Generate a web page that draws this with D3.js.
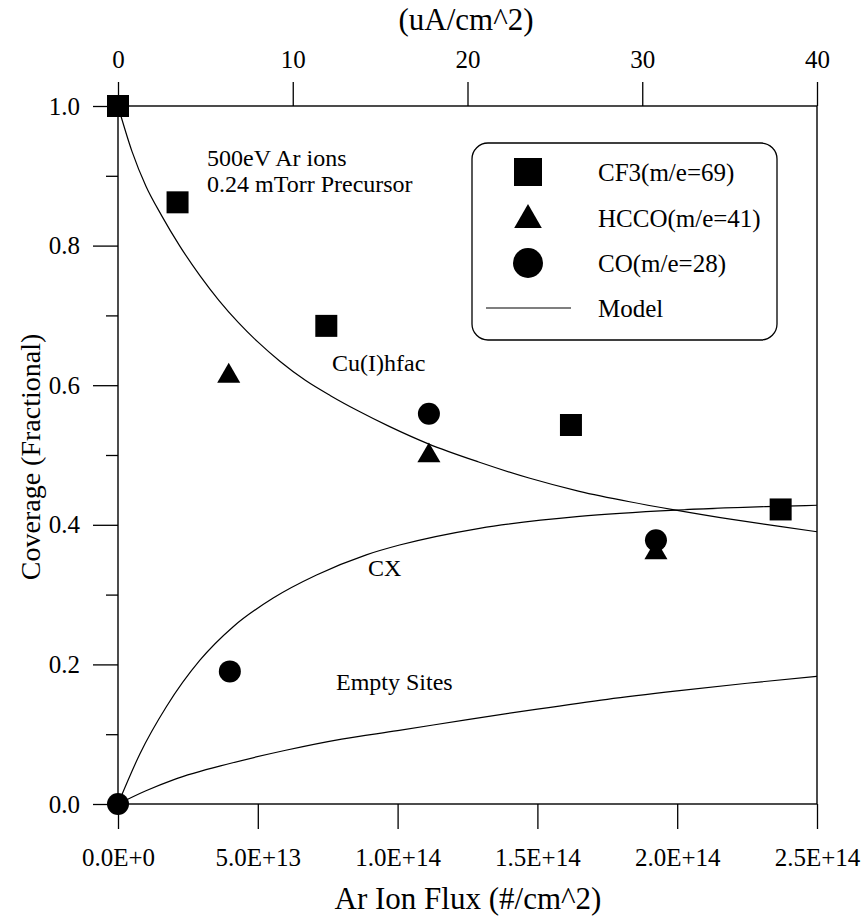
<!DOCTYPE html>
<html>
<head>
<meta charset="utf-8">
<script src="https://cdn.jsdelivr.net/npm/d3@7"></script>
<style>
  html, body { margin: 0; padding: 0; background: #fff; }
  svg text { font-family: "Liberation Serif", "Times New Roman", serif; fill: #000; }
</style>
</head>
<body>
<script>
// --- data ---
const fluxTicks = [0, 5e13, 1e14, 1.5e14, 2e14, 2.5e14];
const currentTicks = [0, 10, 20, 30, 40];
const coverageTicks = [0, 0.2, 0.4, 0.6, 0.8, 1.0];
const coverageMinor = [0.1, 0.3, 0.5, 0.7, 0.9];

// measured points
const cf3X = [0, 2.13e13, 7.45e13, 1.62e14, 2.37e14];
const cf3Y = [1.0, 0.862, 0.685, 0.543, 0.422];
const hccoX = [3.96e13, 1.112e14, 1.924e14];
const hccoY = [0.613, 0.499, 0.360];
const coX = [0, 4.0e13, 1.112e14, 1.924e14];
const coY = [0, 0.19, 0.559, 0.378];

// model curves (x in units of 1e13)
const hfacX = [0, 0.5, 1.0, 1.56, 2.2, 2.93, 3.6, 4.3, 5.0, 5.8, 6.7, 7.6, 8.6, 9.7, 11.1, 12.9, 14.7, 16.5, 18.3, 19.95, 21.9, 23.6, 25];
const hfacY = [1.0, 0.935, 0.885, 0.843, 0.8, 0.757, 0.722, 0.69, 0.662, 0.634, 0.607, 0.585, 0.563, 0.541, 0.516, 0.49, 0.467, 0.448, 0.433, 0.421, 0.408, 0.398, 0.39];
const cxX = [0, 0.786, 1.74, 2.93, 4.12, 5.55, 7.1, 8.88, 10.07, 12.93, 16.5, 19.95, 23.17, 25];
const cxY = [0, 0.072, 0.14, 0.206, 0.254, 0.295, 0.328, 0.357, 0.371, 0.395, 0.412, 0.421, 0.426, 0.428];
const emptyX = [0, 1, 2, 4, 6, 8, 10, 12.5, 15, 17.5, 20, 22.5, 25];
const emptyY = [0, 0.019, 0.035, 0.058, 0.077, 0.093, 0.105, 0.121, 0.136, 0.15, 0.162, 0.173, 0.183];

const legendLabels = ["CF3(m/e=69)", "HCCO(m/e=41)", "CO(m/e=28)", "Model"];

// --- setup ---
const width = 868, height = 919;
const plot = { left: 118, right: 817, top: 106, bottom: 804 };

const svg = d3.select("body").append("svg")
  .attr("width", width)
  .attr("height", height);

const x = d3.scaleLinear().domain([0, 2.5e14]).range([plot.left, plot.right]);
const xTop = d3.scaleLinear().domain([0, 40]).range([plot.left, plot.right]);
const y = d3.scaleLinear().domain([0, 1]).range([plot.bottom, plot.top]);

const fmtE = d => d3.format(".1e")(d).toUpperCase();

// axes
const gx = svg.append("g")
  .attr("transform", `translate(0,${plot.bottom})`)
  .call(d3.axisBottom(x).tickValues(fluxTicks).tickFormat(fmtE).tickSize(25).tickPadding(19).tickSizeOuter(0));

const gxTop = svg.append("g")
  .attr("transform", `translate(0,${plot.top})`)
  .call(d3.axisTop(xTop).tickValues(currentTicks).tickSize(24).tickPadding(14).tickSizeOuter(0));

const gy = svg.append("g")
  .attr("transform", `translate(${plot.left},0)`)
  .call(d3.axisLeft(y).tickValues(coverageTicks).tickFormat(d3.format(".1f")).tickSize(25).tickPadding(13).tickSizeOuter(0));

const gyMinor = svg.append("g")
  .attr("transform", `translate(${plot.left},0)`)
  .call(d3.axisLeft(y).tickValues(coverageMinor).tickFormat("").tickSize(12).tickSizeOuter(0));

[gx, gxTop, gy, gyMinor].forEach(g => {
  g.select(".domain").remove();
  g.selectAll("line").attr("stroke", "#000").attr("stroke-width", 1.3);
  g.selectAll("text").style("font-size", "25px").attr("fill", "#000");
});

// frame
svg.append("rect")
  .attr("x", plot.left)
  .attr("y", plot.top)
  .attr("width", plot.right - plot.left)
  .attr("height", plot.bottom - plot.top)
  .attr("fill", "none")
  .attr("stroke", "#000")
  .attr("stroke-width", 1.4);

// axis titles
svg.append("text")
  .attr("x", 468).attr("y", 909)
  .attr("text-anchor", "middle")
  .style("font-size", "31px")
  .text("Ar Ion Flux (#/cm^2)");

svg.append("text")
  .attr("x", 466).attr("y", 30)
  .attr("text-anchor", "middle")
  .style("font-size", "31px")
  .text("(uA/cm^2)");

svg.append("text")
  .attr("transform", `translate(40,457) rotate(-90)`)
  .attr("text-anchor", "middle")
  .style("font-size", "28px")
  .text("Coverage (Fractional)");

// model curves
const line = d3.line()
  .x(d => x(d[0] * 1e13))
  .y(d => y(d[1]))
  .curve(d3.curveMonotoneX);

[[hfacX, hfacY], [cxX, cxY], [emptyX, emptyY]].forEach(([xs, ys]) => {
  svg.append("path")
    .datum(xs.map((v, i) => [v, ys[i]]))
    .attr("fill", "none")
    .attr("stroke", "#000")
    .attr("stroke-width", 1.2)
    .attr("d", line);
});

// markers
const sqSym = d3.symbol().type(d3.symbolSquare).size(22 * 22);
const triSym = d3.symbol().type(d3.symbolTriangle).size(230);
const cirSym = d3.symbol().type(d3.symbolCircle).size(Math.PI * 11 * 11);

svg.append("g").selectAll("path")
  .data(coX.map((v, i) => [v, coY[i]]))
  .join("path")
  .attr("transform", d => `translate(${x(d[0])},${y(d[1])})`)
  .attr("d", cirSym);

svg.append("g").selectAll("path")
  .data(hccoX.map((v, i) => [v, hccoY[i]]))
  .join("path")
  .attr("transform", d => `translate(${x(d[0])},${y(d[1])})`)
  .attr("d", triSym);

svg.append("g").selectAll("path")
  .data(cf3X.map((v, i) => [v, cf3Y[i]]))
  .join("path")
  .attr("transform", d => `translate(${x(d[0])},${y(d[1])})`)
  .attr("d", sqSym);

// annotations
const notes = svg.append("g").style("font-size", "24px");
notes.append("text").attr("x", 207).attr("y", 166).text("500eV Ar ions");
notes.append("text").attr("x", 207).attr("y", 192).text("0.24 mTorr Precursor");
notes.append("text").attr("x", 332).attr("y", 371).text("Cu(I)hfac");
notes.append("text").attr("x", 368).attr("y", 576).text("CX");
notes.append("text").attr("x", 336).attr("y", 690).text("Empty Sites");

// legend
const legend = svg.append("g");
legend.append("rect")
  .attr("x", 472).attr("y", 143)
  .attr("width", 305).attr("height", 197)
  .attr("rx", 16).attr("ry", 16)
  .attr("fill", "#fff")
  .attr("stroke", "#000")
  .attr("stroke-width", 1.3);

const rowY = [172, 218, 263, 308];
legend.append("path").attr("transform", `translate(528,${rowY[0]})`)
  .attr("d", d3.symbol().type(d3.symbolSquare).size(28 * 28));
legend.append("path").attr("transform", `translate(528,${rowY[1] + 2})`)
  .attr("d", d3.symbol().type(d3.symbolTriangle).size(330));
legend.append("path").attr("transform", `translate(528,${rowY[2]})`)
  .attr("d", d3.symbol().type(d3.symbolCircle).size(Math.PI * 15 * 15));
legend.append("line")
  .attr("x1", 486).attr("x2", 571)
  .attr("y1", rowY[3]).attr("y2", rowY[3])
  .attr("stroke", "#000").attr("stroke-width", 1.2);

legend.selectAll("text")
  .data(legendLabels)
  .join("text")
  .attr("x", 598)
  .attr("y", (d, i) => rowY[i])
  .attr("dy", "0.35em")
  .style("font-size", "25px")
  .text(d => d);
</script>
</body>
</html>
